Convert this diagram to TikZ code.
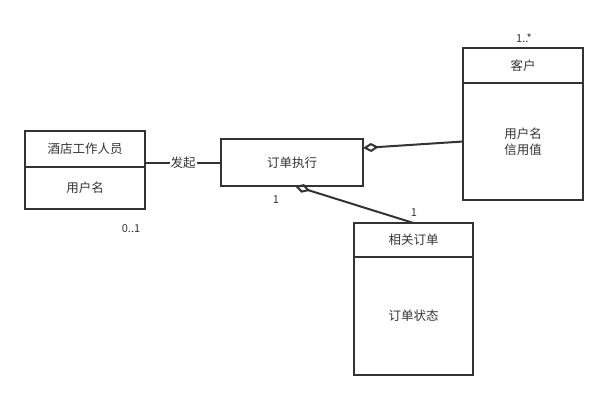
\documentclass[tikz,border=0pt]{standalone}
\usepackage{fontspec}
\setmainfont{Noto Sans CJK SC}
\usetikzlibrary{positioning,arrows.meta}
\definecolor{umlGray}{HTML}{333333}

\begin{document}
\begin{tikzpicture}
[x=1pt,y=-1pt,
  lineDecorate/.style={-,line width=2pt,draw=umlGray},%
  aggrDecorate/.style={-{Diamond[open,length=16pt,width=9pt]},line width=2pt,draw=umlGray},
  boxDecorate/.style={shape=rectangle,draw=umlGray,line width=2pt,inner sep=0pt,outer sep=0pt,text=umlGray,align=center},
  labelDecorate/.style={inner sep=0pt,text=umlGray,font=\fontsize{11}{13}\selectfont}]
\fontsize{12.5}{16}\selectfont
\useasboundingbox (0,0) rectangle (609,400);
%% class headers
\foreach \nodename/\x/\y/\w/\h/\txt in {
  staffHead/85/149/120/36/酒店工作人员,
  kehuHead/523/65.5/120/35/客户,
  orderHead/413.5/240/119/34/相关订单,
  exec/292/162.5/142/47/订单执行}
{
  \node (\nodename) at (\x,\y) [boxDecorate,minimum width=\w pt,minimum height=\h pt] {\txt};
}
%% class bodies
\node (staffBody) [below=0pt of staffHead,boxDecorate,minimum width=120pt,minimum height=42pt] {用户名};
\node (kehuBody) [below=0pt of kehuHead,boxDecorate,minimum width=120pt,minimum height=117pt] {用户名\\信用值};
\node (orderBody) [below=0pt of orderHead,boxDecorate,minimum width=119pt,minimum height=118pt] {订单状态};
%% edges or lines
\draw[lineDecorate] (staffHead.east |- exec.west) -- node[fill=white,inner sep=1pt,text=umlGray] (faqi) {发起} (exec.west);
\draw[aggrDecorate] (kehuBody.west) -- ([yshift=14.5pt]exec.east);
\draw[aggrDecorate] (orderHead.north) -- ([xshift=3pt]exec.south);
%% multiplicities
\foreach \labname/\x/\y/\txt in {
  multKehu/524/38/1..*,
  multStaff/131/229/0..1,
  multExec/276/200/1,
  multOrder/414/213/1}
{
  \node (\labname) at (\x,\y) [labelDecorate] {\txt};
}
\end{tikzpicture}
\end{document}
